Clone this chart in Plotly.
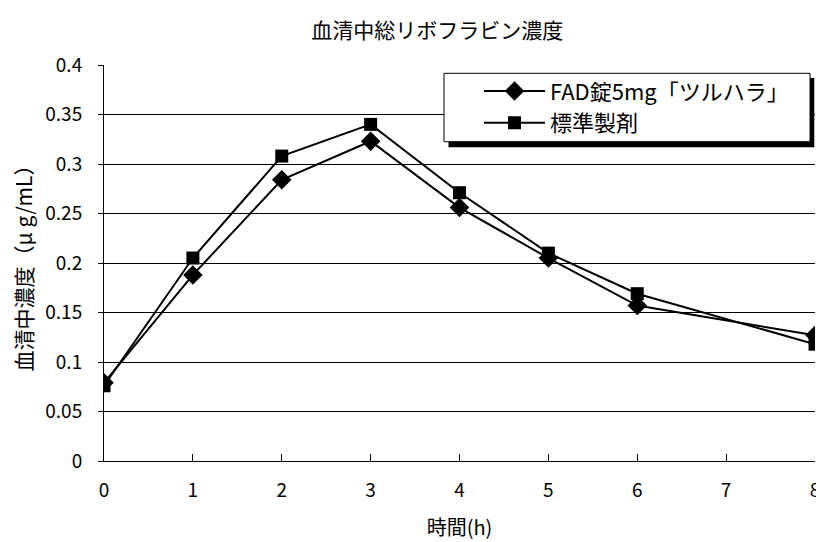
import plotly.graph_objects as go

hours = [0, 1, 2, 3, 4, 5, 6, 8]
fad = [0.079, 0.188, 0.284, 0.323, 0.256, 0.205, 0.157, 0.127]
std = [0.076, 0.205, 0.308, 0.340, 0.271, 0.210, 0.169, 0.118]
series_names = ["FAD錠5mg「ツルハラ」", "標準製剤"]
x_ticks = [0, 1, 2, 3, 4, 5, 6, 7, 8]
y_ticks = [0, 0.05, 0.1, 0.15, 0.2, 0.25, 0.3, 0.35, 0.4]
y_tick_text = ["0", "0.05", "0.1", "0.15", "0.2", "0.25", "0.3", "0.35", "0.4"]

FONT = "Noto Sans CJK JP"

fig = go.Figure()
fig.add_trace(go.Scatter(
    x=hours, y=fad, name=series_names[0], mode="lines+markers",
    line=dict(color="black", width=2),
    marker=dict(symbol="diamond", size=15, color="black"),
))
fig.add_trace(go.Scatter(
    x=hours, y=std, name=series_names[1], mode="lines+markers",
    line=dict(color="black", width=2),
    marker=dict(symbol="square", size=13, color="black"),
))

# legend frame with drop shadow (decoration in paper coordinates)
fig.add_shape(type="rect", xref="paper", yref="paper",
              x0=0.4845, x1=0.9990, y0=0.7922, y1=0.9672,
              fillcolor="black", line=dict(width=0), layer="above")
fig.add_shape(type="rect", xref="paper", yref="paper",
              x0=0.4782, x1=0.9930, y0=0.8063, y1=0.9790,
              fillcolor="white", line=dict(color="black", width=1), layer="above")

fig.update_layout(
    width=824, height=542,
    margin=dict(l=96, r=17, t=57, b=89),
    paper_bgcolor="white", plot_bgcolor="white",
    font=dict(family=FONT, size=19, color="black"),
    title=dict(text="血清中総リボフラビン濃度", x=0.521, xanchor="center",
               y=0.959, yanchor="middle", font=dict(size=21)),
    showlegend=True,
    legend=dict(x=0.5274, y=0.9867, xanchor="left", yanchor="top",
                bgcolor="rgba(0,0,0,0)", borderwidth=0,
                font=dict(size=22), tracegroupgap=0, itemwidth=61),
    xaxis=dict(range=[0, 8], tickvals=x_ticks, ticktext=[str(v) for v in x_ticks],
               showgrid=False, zeroline=False, showline=True, linecolor="black",
               linewidth=1, ticks="inside", ticklen=7, tickcolor="black",
               ticklabelstandoff=12,
               title=dict(text="時間(h)", standoff=20, font=dict(size=20)),
               tickfont=dict(size=19)),
    yaxis=dict(range=[0, 0.4], tickvals=y_ticks, ticktext=y_tick_text,
               showgrid=True, gridcolor="black", gridwidth=1, zeroline=False,
               showline=True, linecolor="black", linewidth=1,
               ticks="outside", ticklen=5, tickcolor="black", ticklabelstandoff=12,
               title=dict(text="血清中濃度（μ g/mL）", standoff=12, font=dict(size=21)),
               tickfont=dict(size=19)),
)

fig.write_html("out.html")
